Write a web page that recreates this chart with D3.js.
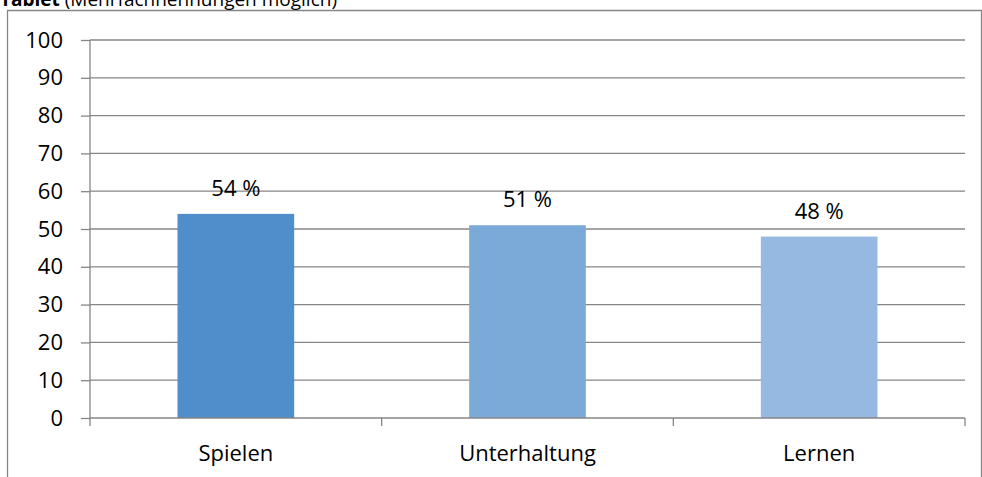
<!DOCTYPE html>
<html><head><meta charset="utf-8">
<script src="https://cdn.jsdelivr.net/npm/d3@7"></script>
<style>body{margin:0;background:#fff;} svg{display:block;}</style>
</head><body>
<svg id="c" width="982" height="477"></svg>
<script>
const categories = ["Spielen", "Unterhaltung", "Lernen"];
const values = [54, 51, 48];
const barColors = ["#4F8ECB", "#7BAAD8", "#95B9E0"];
const yTicks = [0, 10, 20, 30, 40, 50, 60, 70, 80, 90, 100];
const titleBold = "Tablet";
const titleRest = " (Mehrfachnennungen möglich)";

const svg = d3.select("#c");
const font = "'Open Sans', sans-serif";
const fs = 22;
const L = 90, R = 965, T = 40, B = 418;

// outer frame
svg.append("path").attr("d", `M7.5,477 V10.5 H981.5 V477`).attr("fill", "none")
  .attr("stroke", "#868686").attr("stroke-width", 1.3);

// title
const tt = svg.append("text").attr("x", 0).attr("y", 6).attr("font-family", font).attr("font-size", 19).attr("fill", "#000");
tt.append("tspan").attr("font-weight", "bold").text(titleBold);
tt.append("tspan").text(titleRest);

const x = d3.scaleBand().domain(categories).range([L, R]).padding(0);
const y = d3.scaleLinear().domain([0, 100]).range([B, T]);

// gridlines
svg.append("g").selectAll("line").data(yTicks.filter(d => d > 0)).join("line")
  .attr("x1", L).attr("x2", R).attr("y1", d => y(d)).attr("y2", d => y(d))
  .attr("stroke", "#868686").attr("stroke-width", 1.3);

// bars
const bw = x.bandwidth() * 0.4;
svg.append("g").selectAll("rect").data(values).join("rect")
  .attr("x", (d, i) => x(categories[i]) + x.bandwidth() / 2 - bw / 2)
  .attr("y", d => y(d)).attr("width", bw).attr("height", d => B - y(d))
  .attr("fill", (d, i) => barColors[i]);

// data labels
svg.append("g").selectAll("text").data(values).join("text")
  .attr("x", (d, i) => x(categories[i]) + x.bandwidth() / 2)
  .attr("y", d => y(d) - 18)
  .attr("text-anchor", "middle").attr("font-family", font).attr("font-size", fs).attr("fill", "#000")
  .text(d => d + " %");

// y axis
const ya = svg.append("g").attr("transform", `translate(${L},0)`)
  .call(d3.axisLeft(y).tickValues(yTicks).tickSize(9).tickPadding(18));
ya.select(".domain").attr("stroke", "#868686").attr("stroke-width", 1.3).attr("d", `M0,${T}V${B}`);
ya.selectAll(".tick line").attr("stroke", "#868686").attr("stroke-width", 1.3);
ya.selectAll("text").attr("font-family", font).attr("font-size", fs).attr("fill", "#000");

// x axis
const xa = svg.append("g").attr("transform", `translate(0,${B})`)
  .call(d3.axisBottom(x).tickSize(0));
xa.select(".domain").attr("stroke", "#868686").attr("stroke-width", 1.3).attr("d", `M${L},0H${R}`);
xa.selectAll("text").attr("font-family", font).attr("font-size", fs).attr("fill", "#000")
  .attr("dy", null).attr("y", 43);
// category boundary tick marks
const bounds = categories.map(c => x(c)).concat([R]);
svg.append("g").selectAll("line").data(bounds).join("line")
  .attr("x1", d => d).attr("x2", d => d).attr("y1", B).attr("y2", B + 8)
  .attr("stroke", "#868686").attr("stroke-width", 1.3);
</script>
</body></html>
